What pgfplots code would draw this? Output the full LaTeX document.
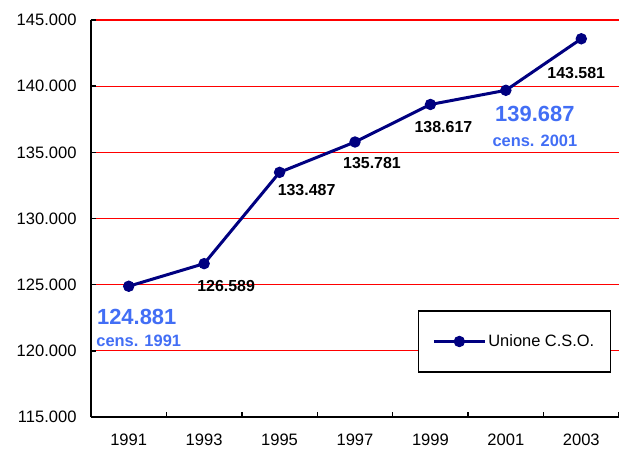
\documentclass[border=0pt]{standalone}
\usepackage{pgfplots}
\pgfplotsset{compat=1.18}
\usepackage{fontspec}
\setmainfont{Liberation Sans}
\definecolor{navy}{RGB}{0,0,128}
\definecolor{lblue}{RGB}{66,110,245}
\pgfplotstableread{
x y
0 124881
1 126589
2 133487
3 135781
4 138617
5 139687
6 143581
}\mydata
\begin{document}
\begin{tikzpicture}
\begin{axis}[
  scale only axis, width=528bp, height=397bp,
  xmin=-0.5, xmax=6.5, ymin=115000, ymax=145000,
  clip=false,
  scaled y ticks=false,
  axis x line*=bottom, axis y line*=left,
  axis line style={-, line width=1.5bp, black},
  xtick={-0.5,0.5,1.5,2.5,3.5,4.5,5.5,6.5},
  xticklabels={1991,1993,1995,1997,1999,2001,2003,{}},
  xticklabel style={xshift=37.7bp, yshift=-13bp},
  ytick={115000,120000,125000,130000,135000,140000,145000},
  yticklabels={115.000,120.000,125.000,130.000,135.000,140.000,145.000},
  yticklabel style={xshift=-11bp},
  tick align=inside, major tick length=5bp,
  tick style={black, line width=1.5bp},
  ymajorgrids, grid style={red, line width=1.3bp},
  ticklabel style={font=\fontsize{16.6}{19}\selectfont},
  /pgf/number format/assume math mode=true,
  legend style={at={(0.985,0.111)}, anchor=south east, draw=black, line width=1.5bp,
    inner xsep=14bp, inner ysep=22bp, font=\fontsize{16.5}{19}\selectfont},
  legend cell align=left,
  legend image code/.code={\draw[mark repeat=2,mark phase=2,#1] plot coordinates {(0bp,0bp) (25.5bp,0bp) (51bp,0bp)};},
]
\addplot[navy, line width=3bp, mark=*, mark size=5.2bp, mark options={solid, fill=navy, line width=1bp}] table[x=x,y=y] {\mydata};
\addlegendentry{Unione C.S.O.}
\begin{scope}[font=\bfseries\fontsize{16}{19}\selectfont]
\node at (axis cs:1,126589) [xshift=22bp, yshift=-22bp] {126.589};
\node at (axis cs:2,133487) [xshift=27bp, yshift=-18bp] {133.487};
\node at (axis cs:3,135781) [xshift=17bp, yshift=-21bp] {135.781};
\node at (axis cs:4,138617) [xshift=13bp, yshift=-23bp] {138.617};
\node at (axis cs:6,143581) [xshift=-5bp, yshift=-34bp] {143.581};
\end{scope}
\begin{scope}[text=lblue, font=\bfseries]
\node at (axis cs:0,124881) [xshift=8bp, yshift=-31bp] {\fontsize{22}{25}\selectfont 124.881};
\node at (axis cs:0,124881) [xshift=10bp, yshift=-55bp] {\fontsize{16.5}{19}\selectfont cens. 1991};
\node at (axis cs:5,139687) [xshift=29bp, yshift=-24bp] {\fontsize{22}{25}\selectfont 139.687};
\node at (axis cs:5,139687) [xshift=29bp, yshift=-51bp] {\fontsize{16.5}{19}\selectfont cens. 2001};
\end{scope}
\end{axis}
\pgfresetboundingbox
\path[use as bounding box] ([shift={(-91bp,-36bp)}]current axis.south west) rectangle ([shift={(0bp,20bp)}]current axis.north east);
\end{tikzpicture}
\end{document}
